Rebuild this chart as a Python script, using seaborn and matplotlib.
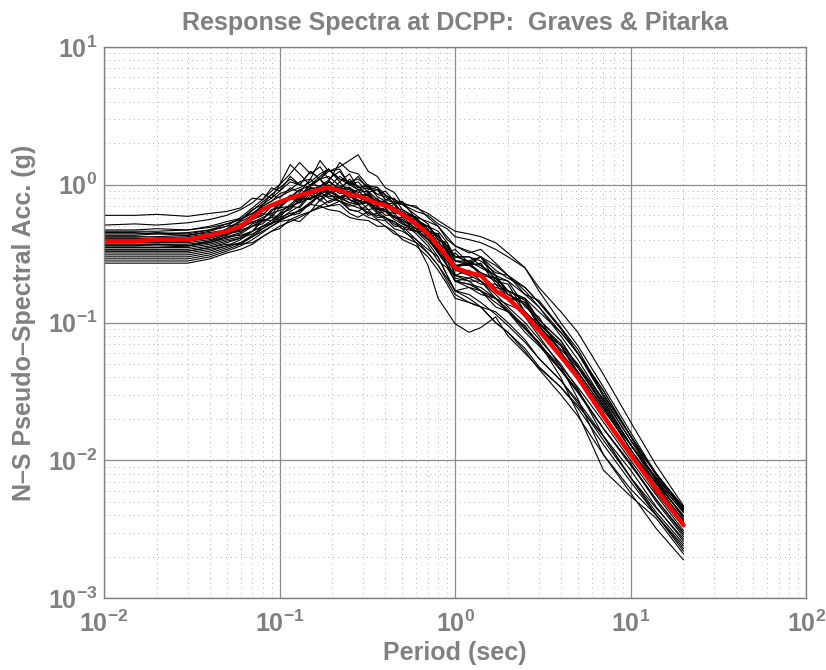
import numpy as np
import pandas as pd
import matplotlib
matplotlib.use("Agg")
import matplotlib.pyplot as plt
import seaborn as sns
from matplotlib.ticker import LogLocator, NullFormatter

periods = [0.01, 0.015, 0.02, 0.03, 0.04, 0.05,
           0.06, 0.07, 0.08, 0.09, 0.1,
           0.115, 0.13, 0.15, 0.17, 0.19,
           0.22, 0.25, 0.28, 0.32, 0.36,
           0.4, 0.45, 0.5, 0.6, 0.7,
           0.8, 0.9, 1.0, 1.2, 1.4,
           1.7, 2.0, 2.5, 3.0, 4.0,
           5.0, 7.0, 10, 14, 20]

median = [0.39, 0.39, 0.40, 0.40, 0.43, 0.46,
          0.50, 0.58, 0.66, 0.71, 0.75,
          0.80, 0.84, 0.88, 0.93, 0.95,
          0.91, 0.85, 0.83, 0.78, 0.73,
          0.71, 0.66, 0.61, 0.52, 0.44,
          0.36, 0.30, 0.25, 0.23, 0.22,
          0.17, 0.15, 0.115, 0.088, 0.057,
          0.040, 0.021, 0.011, 0.0062, 0.0034]

s01 = [0.60,0.60,0.61,0.59,0.62,0.64, 0.68,0.80,0.78,0.95,0.90, 1.15,1.0,1.25,1.1,1.3, 1.05,1.2,0.95,1.0,0.85, 0.90,0.76,0.72,0.60,0.52, 0.40,0.36,0.30,0.30,0.26, 0.22,0.16,0.14,0.10,0.068, 0.048,0.025, 0.013,0.0072,0.0042]
s02 = [0.51,0.52,0.51,0.53,0.56,0.60, 0.66,0.74,0.86,0.80,1.0, 1.2,1.45,1.2,1.35,1.1, 1.25,1.0,1.05,0.88,0.92, 0.78,0.80,0.66,0.58,0.44, 0.40,0.30,0.32,0.26,0.30, 0.22,0.20,0.13,0.11,0.060, 0.044,0.024, 0.012,0.0068,0.0040]
s03 = [0.47,0.47,0.48,0.47,0.49,0.52, 0.56,0.66,0.72,0.85,0.80, 0.95,0.88,1.1,1.5,1.25, 1.3,1.0,1.15,0.92,0.96, 0.85,0.72,0.76,0.56,0.48, 0.34,0.36,0.25,0.27,0.22, 0.21,0.15,0.15,0.090,0.068, 0.042,0.023, 0.013,0.0075,0.0045]
s04 = [0.45,0.45,0.44,0.45,0.47,0.50, 0.52,0.56,0.60,0.70,0.68, 0.80,0.78,1.0,1.1,1.25, 1.35,1.5,1.65,1.25,1.15, 0.95,0.88,0.72,0.70,0.58, 0.50,0.42,0.36,0.33,0.30, 0.26,0.22,0.18,0.14,0.090, 0.060,0.030, 0.015,0.0080,0.0043]
s05 = [0.43,0.43,0.44,0.43,0.46,0.50, 0.58,0.68,0.78,0.90,1.0, 1.4,1.2,0.98,1.1,0.90, 0.82,0.86,0.72,0.78,0.64, 0.66,0.58,0.56,0.46,0.42, 0.32,0.28,0.21,0.20,0.17, 0.15,0.12,0.090,0.072,0.045, 0.032,0.017, 0.0095,0.0050,0.0028]
s06 = [0.42,0.42,0.42,0.43,0.45,0.47, 0.50,0.56,0.62,0.60,0.74, 0.80,0.92,0.85,0.98,0.86, 1.05,0.86,0.92,0.74,0.80, 0.68,0.72,0.58,0.56,0.42, 0.44,0.32,0.34,0.27,0.30, 0.20,0.19,0.12,0.095,0.058, 0.042,0.022, 0.011,0.0062,0.0036]
s07 = [0.41,0.41,0.40,0.41,0.42,0.44, 0.47,0.50,0.54,0.58,0.56, 0.64,0.70,0.88,0.85,1.05, 1.45,1.25,1.2,0.98,0.96, 0.78,0.74,0.62,0.58,0.42, 0.38,0.26,0.20,0.21,0.19, 0.19,0.15,0.14,0.10,0.070, 0.050,0.027, 0.013,0.0075,0.0044]
s08 = [0.40,0.40,0.41,0.40,0.43,0.47, 0.54,0.60,0.70,0.76,0.86, 0.92,1.05,1.1,0.92,0.86, 0.76,0.72,0.68,0.66,0.58, 0.58,0.50,0.50,0.40,0.34, 0.30,0.22,0.17,0.15,0.13, 0.12,0.10,0.075,0.055,0.038, 0.027,0.015, 0.0085,0.0046,0.0026]
s09 = [0.39,0.39,0.39,0.39,0.41,0.44, 0.46,0.50,0.56,0.55,0.62, 0.66,0.78,0.80,0.96,0.88, 0.92,1.1,0.95,0.98,0.82, 0.76,0.64,0.64,0.52,0.50, 0.46,0.38,0.30,0.30,0.28, 0.23,0.22,0.16,0.13,0.080, 0.054,0.027, 0.013,0.0073,0.0042]
s10 = [0.38,0.38,0.38,0.38,0.40,0.43, 0.48,0.58,0.64,0.72,0.70, 0.80,0.74,0.90,0.76,0.86, 0.92,0.78,0.74,0.86,0.68, 0.64,0.58,0.54,0.44,0.36, 0.28,0.25,0.20,0.18,0.17, 0.13,0.12,0.085,0.068,0.045, 0.031,0.017, 0.0092,0.0052,0.0030]
s11 = [0.37,0.37,0.37,0.37,0.39,0.42, 0.43,0.46,0.50,0.52,0.56, 0.60,0.62,0.74,0.88,0.80, 0.76,0.70,0.72,0.60,0.62, 0.56,0.54,0.48,0.46,0.38, 0.30,0.22,0.17,0.18,0.16, 0.15,0.135,0.12,0.095,0.064, 0.047,0.025, 0.012,0.0065,0.0037]
s12 = [0.36,0.36,0.36,0.36,0.39,0.44, 0.50,0.60,0.72,0.80,0.90, 1.05,1.0,1.25,1.1,1.15, 0.98,0.95,0.88,0.90,0.78, 0.72,0.74,0.62,0.58,0.46, 0.44,0.32,0.28,0.26,0.27, 0.19,0.17,0.12,0.095,0.062, 0.040,0.021, 0.011,0.0058,0.0033]
s13 = [0.35,0.35,0.35,0.35,0.37,0.40, 0.42,0.46,0.50,0.53,0.55, 0.60,0.66,0.72,0.85,0.74, 0.80,0.66,0.64,0.72,0.62, 0.64,0.56,0.52,0.46,0.46, 0.44,0.34,0.22,0.21,0.22, 0.18,0.17,0.15,0.12,0.085, 0.060,0.032, 0.015,0.0070,0.0039]
s14 = [0.34,0.34,0.34,0.34,0.36,0.39, 0.41,0.44,0.48,0.52,0.62, 0.72,0.82,1.0,1.15,1.3, 1.1,1.05,0.92,0.88,0.74, 0.76,0.62,0.62,0.50,0.42, 0.32,0.26,0.20,0.19,0.18, 0.15,0.12,0.095,0.070,0.046, 0.032,0.017, 0.0095,0.0052,0.0029]
s15 = [0.33,0.33,0.33,0.33,0.35,0.37, 0.37,0.38,0.42,0.46,0.48, 0.56,0.54,0.64,0.78,0.70, 0.72,0.62,0.58,0.64,0.56, 0.55,0.48,0.46,0.40,0.32, 0.26,0.20,0.16,0.14,0.13, 0.10,0.085,0.065,0.048,0.034, 0.024,0.013, 0.0070,0.0040,0.0023]
s16 = [0.32,0.32,0.32,0.32,0.34,0.36, 0.38,0.42,0.46,0.50,0.55, 0.60,0.65,0.75,0.82,0.85, 0.80,0.74,0.72,0.62,0.60, 0.58,0.52,0.48,0.38,0.26, 0.15,0.12,0.098,0.085,0.092, 0.11,0.080,0.060,0.047,0.034, 0.025,0.015, 0.0075,0.0042,0.0025]
s17 = [0.31,0.31,0.31,0.31,0.33,0.36, 0.40,0.46,0.56,0.64,0.74, 0.82,0.92,0.98,1.1,0.96, 1.15,1.02,0.98,0.82,0.76, 0.70,0.68,0.62,0.58,0.54, 0.50,0.40,0.36,0.32,0.34, 0.27,0.22,0.17,0.13,0.085, 0.060,0.032, 0.015,0.0080,0.0044]
s18 = [0.30,0.30,0.30,0.30,0.32,0.35, 0.38,0.43,0.50,0.55,0.60, 0.68,0.76,0.90,0.86,1.0, 0.90,0.80,0.86,0.72,0.70, 0.64,0.62,0.54,0.52,0.46, 0.42,0.36,0.30,0.28,0.30, 0.24,0.21,0.18,0.14,0.092, 0.060,0.029, 0.014,0.0072,0.0038]
s19 = [0.29,0.29,0.29,0.29,0.31,0.34, 0.37,0.42,0.48,0.53,0.58, 0.62,0.64,0.72,0.70,0.76, 0.82,0.78,0.72,0.74,0.64, 0.58,0.54,0.50,0.46,0.40, 0.32,0.26,0.20,0.19,0.17, 0.14,0.12,0.090,0.070,0.048, 0.034,0.019, 0.010,0.0056,0.0031]
s20 = [0.28,0.28,0.28,0.28,0.30,0.33, 0.36,0.40,0.45,0.50,0.54, 0.56,0.60,0.64,0.70,0.66, 0.64,0.58,0.56,0.55,0.50, 0.50,0.44,0.42,0.38,0.32, 0.26,0.21,0.17,0.16,0.14, 0.115,0.095,0.072,0.055,0.038, 0.026,0.014, 0.0075,0.0040,0.0022]
s21 = [0.27,0.27,0.27,0.27,0.29,0.32, 0.34,0.37,0.42,0.46,0.50, 0.54,0.58,0.64,0.68,0.70, 0.76,0.66,0.64,0.58,0.55, 0.50,0.46,0.40,0.36,0.30, 0.24,0.19,0.15,0.14,0.13, 0.10,0.085,0.062,0.046,0.030, 0.021,0.011, 0.0058,0.0032,0.0019]
s22 = [0.44,0.44,0.45,0.44,0.47,0.52, 0.56,0.62,0.70,0.76,0.82, 0.90,0.95,1.05,1.2,1.3, 1.1,1.0,0.92,0.95,0.85, 0.82,0.74,0.72,0.64,0.60, 0.52,0.48,0.42,0.40,0.38, 0.34,0.30,0.25,0.18,0.12, 0.085,0.042, 0.019,0.0092,0.0047]
s23 = [0.41,0.41,0.41,0.42,0.44,0.47, 0.50,0.53,0.58,0.62,0.65, 0.70,0.74,0.80,0.85,0.92, 0.96,1.05,1.1,0.96,0.92, 0.84,0.78,0.74,0.68,0.62, 0.55,0.50,0.46,0.44,0.42, 0.38,0.32,0.25,0.17,0.10, 0.068,0.034, 0.016,0.0080,0.0045]
s24 = [0.40,0.40,0.40,0.40,0.42,0.45, 0.48,0.54,0.56,0.66,0.68, 0.82,0.80,0.95,0.88,0.98, 0.86,0.90,0.76,0.80,0.70, 0.72,0.62,0.62,0.50,0.44, 0.34,0.31,0.22,0.24,0.20, 0.17,0.15,0.11,0.080,0.048, 0.028,0.011, 0.0062,0.0040,0.0024]
s25 = [0.38,0.38,0.38,0.39,0.42,0.48, 0.55,0.65,0.75,0.85,0.95, 1.1,1.0,0.96,0.90,0.94, 0.82,0.84,0.76,0.74,0.66, 0.66,0.58,0.56,0.48,0.40, 0.34,0.28,0.24,0.22,0.20, 0.16,0.13,0.10,0.076,0.050, 0.033,0.015, 0.0075,0.0045,0.0027]
s26 = [0.36,0.36,0.37,0.36,0.38,0.41, 0.44,0.50,0.52,0.60,0.58, 0.70,0.68,0.84,0.78,0.90, 0.80,0.84,0.72,0.76,0.66, 0.68,0.58,0.58,0.48,0.46, 0.36,0.34,0.26,0.27,0.23, 0.21,0.17,0.145,0.105,0.074, 0.048,0.028, 0.014,0.0080,0.0046]
s27 = [0.35,0.35,0.35,0.36,0.38,0.42, 0.45,0.52,0.56,0.66,0.68, 0.80,0.78,0.92,0.86,0.98, 0.92,0.96,0.84,0.86,0.74, 0.74,0.66,0.64,0.54,0.50, 0.40,0.38,0.28,0.27,0.26, 0.21,0.20,0.16,0.145,0.092, 0.064,0.030, 0.015,0.0078,0.0043]
s28 = [0.33,0.33,0.33,0.33,0.35,0.38, 0.41,0.46,0.55,0.58,0.68, 0.70,0.80,0.78,0.88,0.82, 0.82,0.74,0.78,0.66,0.68, 0.60,0.60,0.52,0.48,0.40, 0.33,0.26,0.22,0.20,0.20, 0.15,0.125,0.092,0.072,0.040, 0.022,0.0085, 0.0055,0.0038,0.0021]
s29 = [0.46,0.46,0.46,0.47,0.50,0.54, 0.57,0.62,0.68,0.72,0.76, 0.82,0.84,0.94,0.96,1.05, 0.95,0.92,0.84,0.84,0.76, 0.76,0.68,0.66,0.56,0.50, 0.42,0.36,0.28,0.28,0.25, 0.22,0.17,0.15,0.105,0.074, 0.048,0.026, 0.013,0.0068,0.0036]
s30 = [0.39,0.39,0.39,0.40,0.43,0.46, 0.49,0.56,0.60,0.70,0.72, 0.84,0.82,1.0,0.98,1.08, 0.90,0.94,0.82,0.84,0.72, 0.72,0.62,0.62,0.52,0.47, 0.38,0.34,0.26,0.26,0.23, 0.20,0.16,0.135,0.098,0.068, 0.044,0.024, 0.012,0.0063,0.0036]

records = [s01, s02, s03, s04, s05, s06, s07, s08, s09, s10, s11, s12, s13, s14, s15,
           s16, s17, s18, s19, s20, s21, s22, s23, s24, s25, s26, s27, s28, s29, s30]

title = "Response Spectra at DCPP:  Graves & Pitarka"
xlabel = "Period (sec)"
ylabel = "N\u2013S Pseudo\u2013Spectral Acc. (g)"

rows = []
for i, rec in enumerate(records):
    for t, v in zip(periods, rec):
        rows.append({"rec": i, "T": t, "SA": v})
df = pd.DataFrame(rows)
dmed = pd.DataFrame({"T": periods, "SA": median})

sns.set_theme(style="white")
plt.rcParams["font.family"] = ["Liberation Sans", "DejaVu Sans"]
plt.rcParams["mathtext.fontset"] = "custom"
plt.rcParams["mathtext.rm"] = "Liberation Sans:bold"
plt.rcParams["mathtext.it"] = "Liberation Sans:bold"
plt.rcParams["mathtext.bf"] = "Liberation Sans:bold"

gray = "#808080"
fig = plt.figure(figsize=(8.26, 6.70), dpi=100)
ax = fig.add_axes([0.126, 0.107, 0.850, 0.823])

sns.lineplot(data=df, x="T", y="SA", units="rec", estimator=None, color="black",
             linewidth=0.8, ax=ax, legend=False)
sns.lineplot(data=dmed, x="T", y="SA", color="#ff0000", linewidth=3.2, ax=ax, legend=False)

ax.set_xscale("log")
ax.set_yscale("log")
ax.set_xlim(1e-2, 1e2)
ax.set_ylim(1e-3, 1e1)

ax.xaxis.set_major_locator(LogLocator(base=10, numticks=10))
ax.yaxis.set_major_locator(LogLocator(base=10, numticks=10))
ax.xaxis.set_minor_locator(LogLocator(base=10, subs=np.arange(2, 10), numticks=20))
ax.yaxis.set_minor_locator(LogLocator(base=10, subs=np.arange(2, 10), numticks=20))
ax.xaxis.set_minor_formatter(NullFormatter())
ax.yaxis.set_minor_formatter(NullFormatter())

ax.grid(True, which="major", color="#8c8c8c", linestyle="-", linewidth=0.9)
ax.grid(True, which="minor", color="#b0b0b0", linestyle=(0, (1, 4)), linewidth=0.7)
ax.set_axisbelow(True)

for sp in ax.spines.values():
    sp.set_color(gray)
    sp.set_linewidth(1.0)

ax.tick_params(axis="both", which="both", direction="in", colors=gray, labelcolor=gray,
               labelsize=18, top=False, right=False)
ax.tick_params(which="major", length=5)
ax.tick_params(which="minor", length=3)
for lab in ax.get_xticklabels() + ax.get_yticklabels():
    lab.set_fontweight("bold")
ax.tick_params(axis="x", pad=9)
ax.tick_params(axis="y", pad=5)

ax.set_title(title, color=gray, fontsize=18, fontweight="bold", pad=12)
ax.set_xlabel(xlabel, color=gray, fontsize=18, fontweight="bold", labelpad=3)
ax.set_ylabel(ylabel, color=gray, fontsize=18, fontweight="bold", labelpad=8)

fig.savefig("out.png", dpi=100)
